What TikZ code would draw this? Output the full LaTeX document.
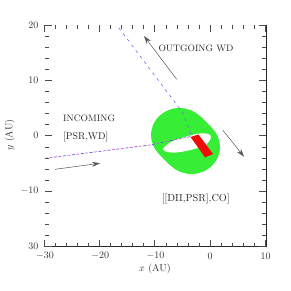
\documentclass[tikz,border=0pt]{standalone}
\usetikzlibrary{arrows.meta}
\definecolor{ringgreen}{RGB}{55,238,55}
\definecolor{barred}{RGB}{240,10,10}
\definecolor{outblue}{RGB}{110,110,235}
\definecolor{inblue}{RGB}{90,90,240}
\definecolor{inmag}{RGB}{220,90,220}
\begin{document}
\begin{tikzpicture}[x=1pt,y=-1pt,
  axisline/.style={line width=0.9pt,black!85},
  tickline/.style={line width=0.6pt,black!70},
  ticklbl/.style={font=\fontsize{10}{12}\selectfont,inner sep=0pt,text=black!80},
  tag/.style={font=\fontsize{9.3}{11}\selectfont,inner sep=0pt,text=black!85},
  motion/.style={line width=0.5pt,black!65,-{Stealth[length=8pt,width=5pt]}},
  outpath/.style={line width=0.6pt,outblue,dash pattern=on 3pt off 4pt},
  inpathA/.style={line width=0.7pt,inblue,dash pattern=on 3pt off 6pt},
  inpathB/.style={line width=0.7pt,inmag,dash pattern=on 3pt off 6pt,dash phase=4.5pt}]
\useasboundingbox[fill=white] (0,0) rectangle (291,291);

% ---- green ring: an oval swept along the falling diagonal, with a thin tilted hole ----
\foreach \s in {0,0.05,...,1.0001}
  \fill[ringgreen] ({179.5+12*\s},{135+12*\s}) ellipse [x radius=28.5, y radius=27];
\fill[white] plot[smooth cycle,tension=0.6] coordinates {
    (163,149) (171,142) (181.5,138) (192,135) (201,133.3) (208,134) (211,137)
    (206.5,144.5) (196,148.5) (186,151) (176,152.5) (167.5,152)};

% ---- orbit paths ----
\coordinate (inS) at (45,158.3);
\coordinate (inB) at (150,145);
\coordinate (periIn) at (191,136.5);
\coordinate (outE) at (116.7,25);
\coordinate (outB) at (183,113);
\coordinate (periOut) at (191,134);
\draw[inpathA] (inS) -- (inB) -- (periIn);
\draw[inpathB] (inS) -- (inB) -- (periIn);
\draw[outpath] (periOut) -- (outB) -- (outE);

% ---- red bar ----
\fill[barred] (190.5,137) -- (198.5,134.5) -- (213,154) -- (205,157.3) -- cycle;

% ---- motion arrows ----
\coordinate (oT) at (176.7,79.3);
\coordinate (oH) at (144,36);
\coordinate (rT) at (222.7,130);
\coordinate (rH) at (244,156.7);
\coordinate (iT) at (55,169.3);
\coordinate (iH) at (100,163.3);
\draw[motion] (oT) -- (oH);
\draw[motion] (rT) -- (rH);
\draw[motion] (iT) -- (iH);

% ---- labels ----
\node[tag] (outlbl) at (196,48) {OUTGOING WD};
\node[tag,anchor=west] (inlbl) at (63,118.7) {INCOMING};
\node[tag,anchor=west,font=\fontsize{9.8}{11}\selectfont] (inpair) at (63,136.7) {[PSR,WD]};
\node[tag,font=\fontsize{10.2}{12}\selectfont] (finlbl) at (195.7,198.7) {[[DII,PSR],CO]};

% ---- axes ----
\coordinate (BL) at (45,246.5);
\coordinate (BR) at (266,246.5);
\coordinate (TR) at (266,25);
\draw[axisline] (BL) -- (BR) -- (TR);
\foreach \v in {-30,-28,...,10} {
  \pgfmathsetmacro\px{210+5.525*\v}
  \pgfmathsetmacro\tl{mod(\v,10)==0 ? 7 : 4}
  \draw[tickline] (\px,246.5) -- ++(0,-\tl);
  \draw[tickline] (\px,25) -- ++(0,\tl);
}
\foreach \v in {-20,-18,...,20} {
  \pgfmathsetmacro\py{135.75-5.5375*\v}
  \pgfmathsetmacro\tl{mod(\v,10)==0 ? 7 : 4}
  \draw[tickline] (45,\py) -- ++(\tl,0);
  \draw[tickline] (266,\py) -- ++(-\tl,0);
}
% x tick labels
\node[ticklbl] (xa) at (45,256) {$-30$};
\node[ticklbl] (xb) at (100.25,256) {$-20$};
\node[ticklbl] (xc) at (155.5,256) {$-10$};
\node[ticklbl] (xd) at (210,256) {$0$};
\node[ticklbl] (xe) at (265.5,256) {$10$};
% y tick labels
\node[ticklbl,anchor=east] (ya) at (38.5,25) {$20$};
\node[ticklbl,anchor=east] (yb) at (38.5,80.4) {$10$};
\node[ticklbl,anchor=east] (yc) at (38.5,135.75) {$0$};
\node[ticklbl,anchor=east] (yd) at (38.5,191.1) {$-10$};
\node[ticklbl,anchor=east] (ye) at (38.5,246.5) {$30$};
% axis titles
\node[ticklbl] (xt) at (155,268.5) {$x$ (AU)};
\node[ticklbl,rotate=90] (yt) at (10,135) {$y$ (AU)};
\end{tikzpicture}
\end{document}
